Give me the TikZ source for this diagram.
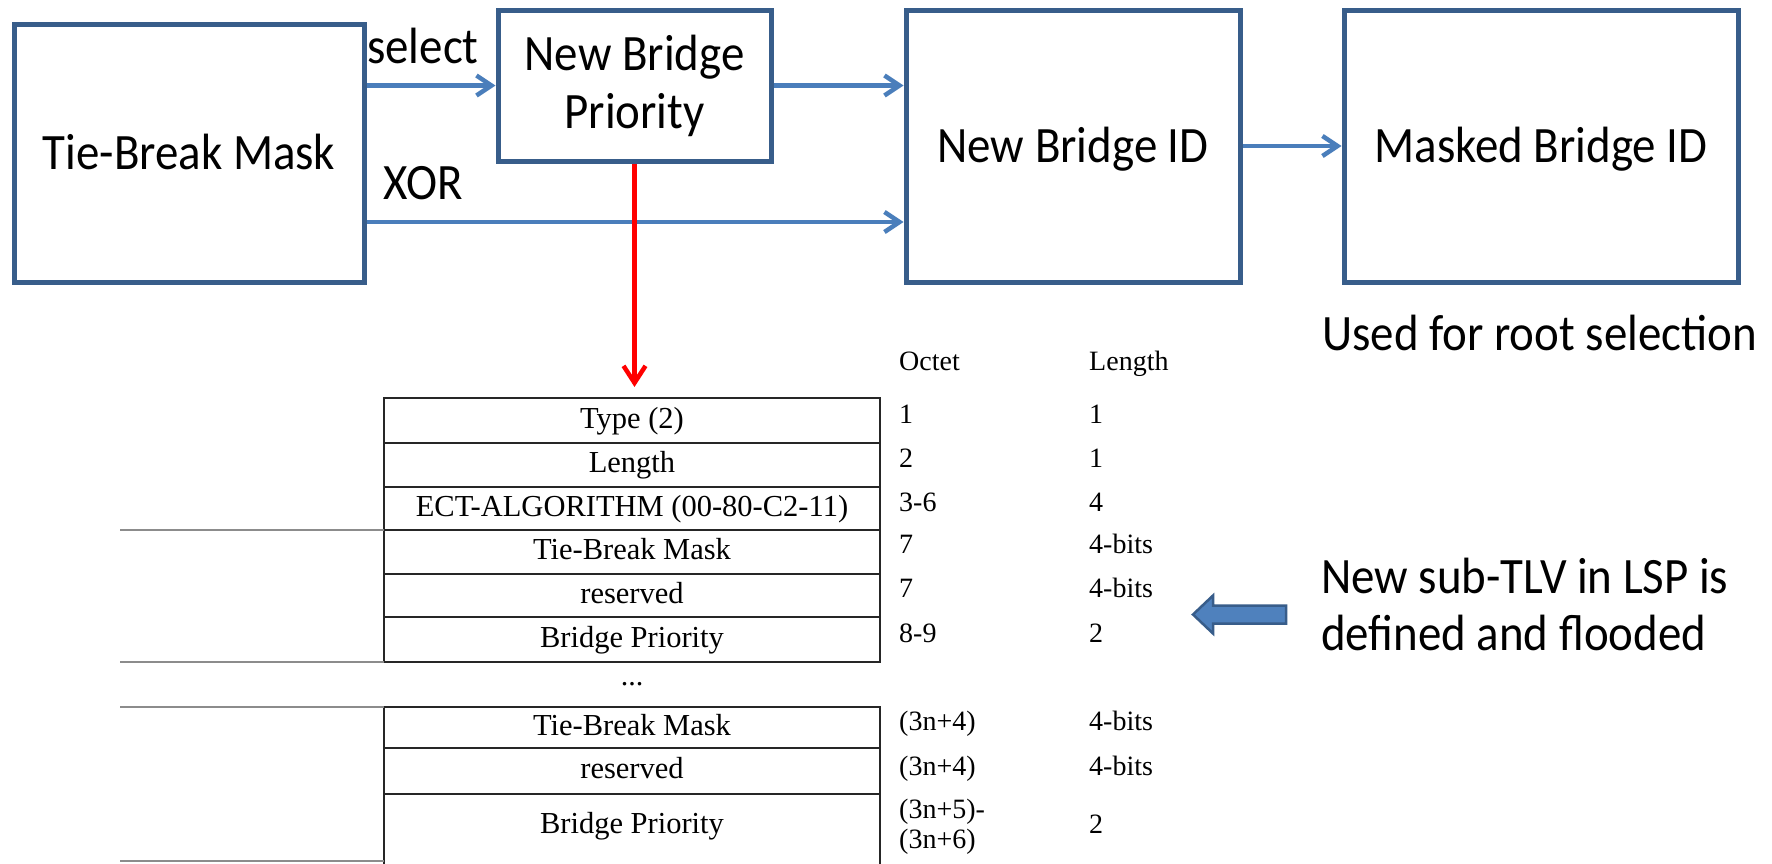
\documentclass[tikz,border=0pt]{standalone}
\usepackage{fontspec}
\setmainfont{Carlito}[FakeStretch=0.92]
\newfontfamily\tms{Liberation Serif}
\usetikzlibrary{arrows.meta}
\definecolor{boxblue}{HTML}{385D8A}
\definecolor{lineblue}{HTML}{4A7EBB}
\definecolor{fillblue}{HTML}{4F81BD}
\begin{document}
\begin{tikzpicture}[x=1pt,y=-1pt,
  bigbox/.style={draw=boxblue, line width=5pt, inner sep=0pt, font=\fontsize{51}{58}\selectfont, align=center},
  oneline/.style={text height=33pt, text depth=0pt},
  flow/.style={draw=lineblue, line width=4.5pt, -{Straight Barb[length=15pt,width=20pt]}},
  row/.style={draw=black!85, line width=1.8pt, minimum width=496pt, inner sep=0pt, outer sep=0pt, font=\tms\fontsize{30.5}{34}\selectfont, text height=21pt, text depth=6pt},
  col/.style={anchor=base west, inner sep=0pt, font=\tms\fontsize{28}{32}\selectfont},
  lbl/.style={anchor=base west, inner sep=0pt, font=\fontsize{51}{58}\selectfont},
  sepline/.style={draw=black!45, line width=1.8pt},
  tabline/.style={draw=black!85, line width=1.8pt}
]
\useasboundingbox[fill=white] (0,0) rectangle (1772,863);

% top flow boxes
\node[bigbox, oneline, minimum width=350pt, minimum height=258pt] (tbm) at (189,153) {Tie-Break Mask};
\node[bigbox, minimum width=273pt, minimum height=151pt] (nbp) at (634.5,85.5) {New Bridge\\Priority};
\node[bigbox, oneline, minimum width=334pt, minimum height=272pt] (nbid) at (1073,146) {New Bridge ID};
\node[bigbox, oneline, minimum width=394pt, minimum height=272pt] (mbid) at (1541,146) {Masked Bridge ID};

\coordinate (xorY) at (0,222);
\draw[flow] (tbm.east |- nbp.west) -- (nbp.west);
\draw[flow] (tbm.east |- xorY) -- (nbid.west |- xorY);
\draw[flow] (nbp.east) -- (nbid.west |- nbp.east);
\draw[flow] (nbid.east) -- (mbid.west);

\node[lbl] (sel) at (367,63) {select};
\node[lbl] (xor) at (383,199) {XOR};
\node[lbl] (used) at (1322,350) {Used for root selection};

% red arrow
\coordinate (redtip) at (634.5,387);
\draw[red, line width=4.5pt, -{Straight Barb[length=17pt,width=22pt]}] (nbp.south) -- (redtip);

% table (upper part)
\node[row, minimum height=45pt] (r1) at (632,420.5) {Type (2)};
\node[row, minimum height=44pt] (r2) at (632,465) {Length};
\node[row, minimum height=43pt] (r3) at (632,508.5) {ECT-ALGORITHM (00-80-C2-11)};
\node[row, minimum height=44pt] (r4) at (632,552) {Tie-Break Mask};
\node[row, minimum height=43pt] (r5) at (632,595.5) {reserved};
\node[row, minimum height=45pt] (r6) at (632,639.5) {Bridge Priority};

\node[inner sep=0pt, font=\tms\fontsize{30}{34}\selectfont] (dots) at (632,684) {...};

% table (lower part)
\node[row, minimum height=41pt] (r7) at (632,727.5) {Tie-Break Mask};
\node[row, minimum height=46pt] (r8) at (632,771) {reserved};
\node[row, draw=none, minimum height=63pt] (r9) at (632,825.5) {Bridge Priority};
\draw[tabline] (r9.north west) -- ++(0,80);
\draw[tabline] (r9.north east) -- ++(0,80);

% grey separator lines on the left
\coordinate (gx) at (120,0);
\draw[sepline] (gx |- r4.north west) -- (r4.north west);
\draw[sepline] (gx |- r6.south west) -- (r6.south west);
\draw[sepline] (gx |- r7.north west) -- (r7.north west);
\coordinate (gb) at (0,861);
\draw[sepline] (gx |- gb) -- (r9.west |- gb);

% octet / length columns
\node[col] (oh) at (899,370) {Octet};
\node[col] (lh) at (1089,370) {Length};
\node[col] (o1) at (899,423) {1};
\node[col] (l1) at (1089,423) {1};
\node[col] (o2) at (899,467) {2};
\node[col] (l2) at (1089,467) {1};
\node[col] (o3) at (899,511) {3-6};
\node[col] (l3) at (1089,511) {4};
\node[col] (o4) at (899,553) {7};
\node[col] (l4) at (1089,553) {4-bits};
\node[col] (o5) at (899,597) {7};
\node[col] (l5) at (1089,597) {4-bits};
\node[col] (o6) at (899,642) {8-9};
\node[col] (l6) at (1089,642) {2};
\node[col] (o7) at (899,730) {(3n+4)};
\node[col] (l7) at (1089,730) {4-bits};
\node[col] (o8) at (899,775) {(3n+4)};
\node[col] (l8) at (1089,775) {4-bits};
\node[col] (o9a) at (899,818) {(3n+5)-};
\node[col] (o9b) at (899,848) {(3n+6)};
\node[col] (l9) at (1089,833) {2};

% block arrow and note
\draw[draw=boxblue, fill=fillblue, line width=2.5pt] (1286,605.5) -- (1213,605.5) -- (1213,595.5) -- (1193,614.5) -- (1213,633.5) -- (1213,623.5) -- (1286,623.5) -- cycle;
\node[lbl] (sub1) at (1321,593) {New sub-TLV in LSP is};
\node[lbl] (sub2) at (1321,650) {defined and flooded};
\end{tikzpicture}
\end{document}
